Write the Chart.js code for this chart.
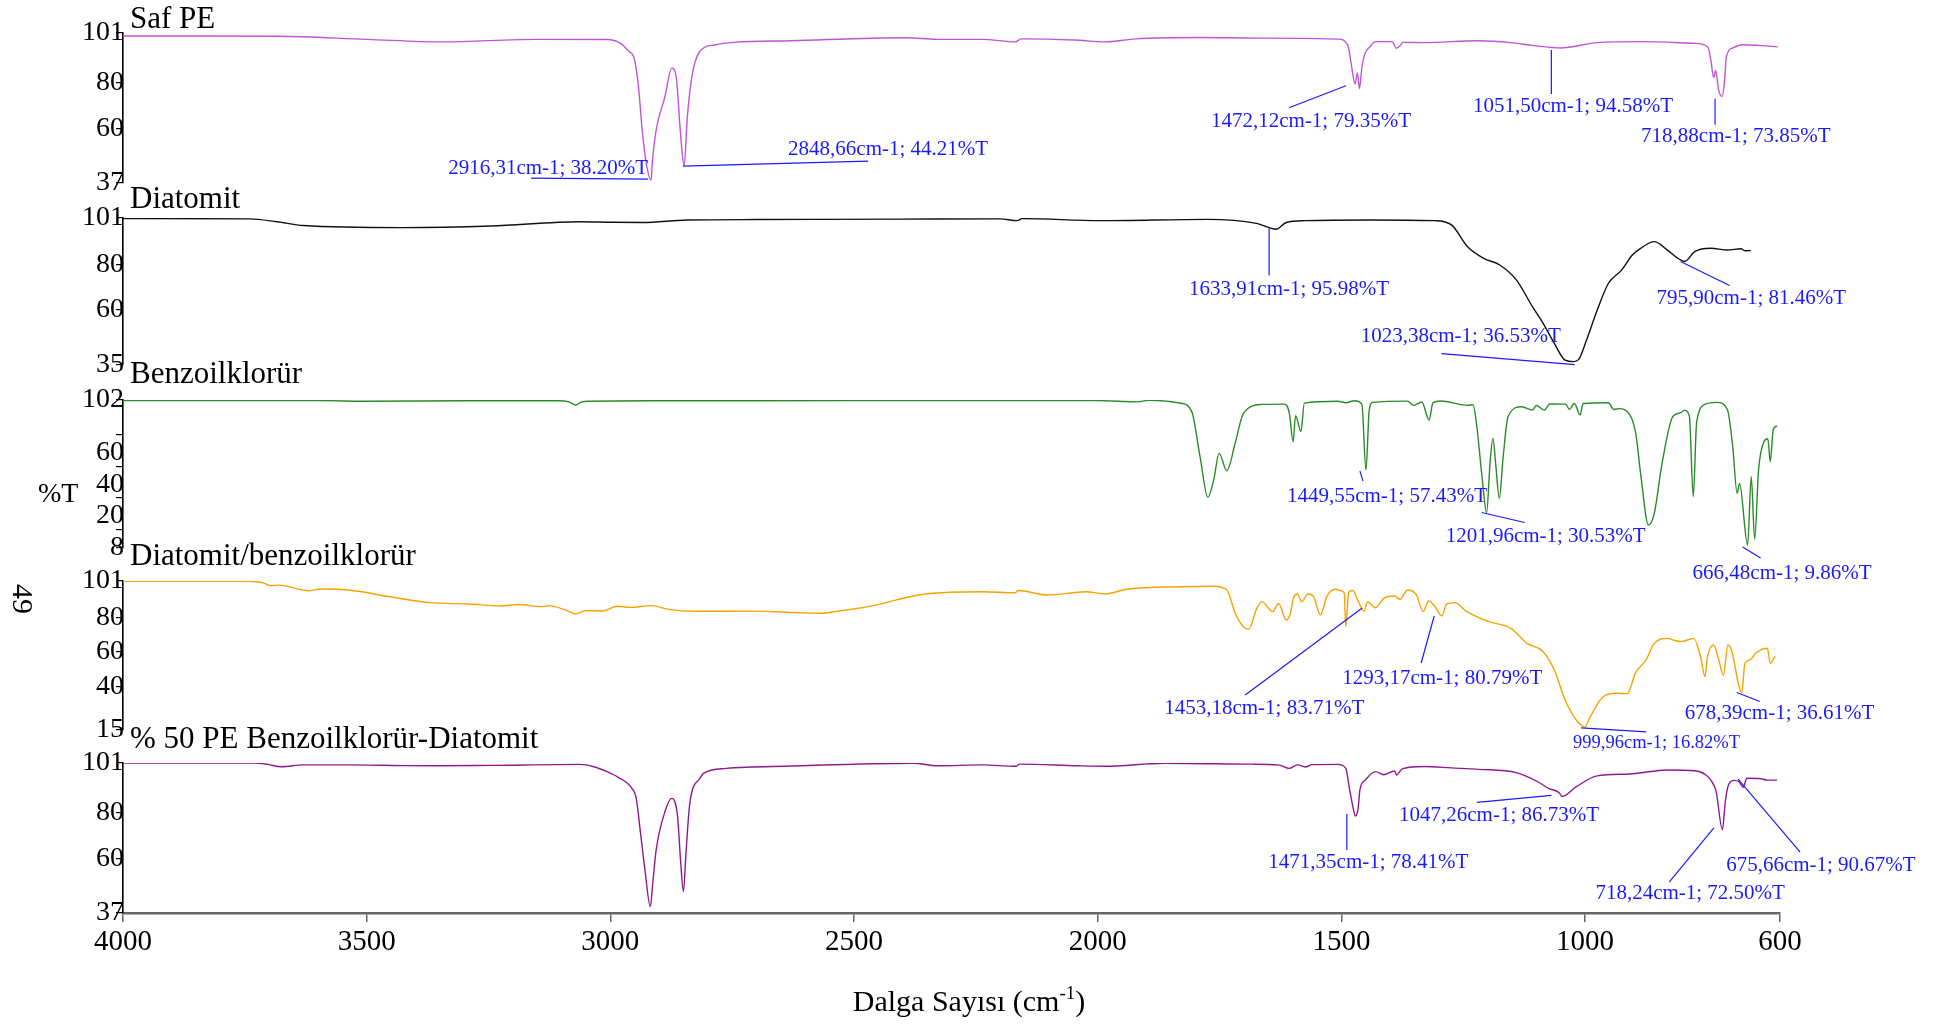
<!DOCTYPE html>
<html>
<head>
<meta charset="utf-8">
<title>FTIR spektrumları</title>
<script src="https://cdn.jsdelivr.net/npm/chart.js@4.4.1/dist/chart.umd.min.js"></script>
<style>
  html, body { margin: 0; padding: 0; background: #fff; }
  #wrap { position: relative; width: 1948px; height: 1027px; overflow: hidden;
          font-family: "Liberation Serif", "Times New Roman", serif; color: #000; }
  #wrap canvas { position: absolute; left: 0; top: 0; }
  .lbl { position: absolute; white-space: nowrap; line-height: 1; }
  #yTitle { left: 38px; top: 479px; font-size: 28px; }
  #sideNo { left: 8px; top: 584px; font-size: 30px; transform: rotate(90deg); transform-origin: 15px 15px; }
  #xTitle { left: 0; width: 1938px; text-align: center; top: 986px; font-size: 30px; }
  #xTitle sup { font-size: 19px; vertical-align: 12px; line-height: 0; }
</style>
</head>
<body>
<div id="wrap">
  <canvas id="c0" width="1948" height="1027"></canvas>
  <canvas id="c1" width="1948" height="1027"></canvas>
  <canvas id="c2" width="1948" height="1027"></canvas>
  <canvas id="c3" width="1948" height="1027"></canvas>
  <canvas id="c4" width="1948" height="1027"></canvas>
  <div class="lbl" id="yTitle">%T</div>
  <div class="lbl" id="sideNo">49</div>
  <div class="lbl" id="xTitle">Dalga Sayısı (cm<sup>-1</sup>)</div>
</div>
<script>
// ---------- spectra: wavenumber (cm-1) and transmittance (%T) ----------
const safWn = [4000,3850,3684,3500,3345,3153,3007,2979,2961,2952,2943,2934,2926,2916.31,2913.5,2906,2888,2874,2865,2856,2848.66,2842,2833,2817,2786,2746,2629,2393,2330,2236,2169,2157,2048,1985,1922,1790,1660,1507,1487,1480,1472.12,1467,1463,1458,1452,1441,1430,1396,1387,1380,1374,1330,1219,1152,1108,1067,1051.5,1030,975,886,775,748,742,736,732,726,718.88,714,710,697,676,643,605];
const safT  = [99.7,99.7,99.6,98.3,97.2,98.3,98.2,96.6,93.0,90.9,79.5,58.2,45,38.20,46.8,59.6,73.8,86.0,82.4,58,44.21,65.3,82,93.0,95.9,97.0,97.7,99.0,98.3,98.3,97.2,98.5,98.0,97.2,98.5,99.1,98.8,98.4,95.9,88,79.35,84,77.3,86,92,95.2,97.3,97.3,94.5,95.5,97,96.9,97.7,96.9,95.7,94.8,94.58,95,96.9,97.3,96.6,95,89.5,82,85,76.7,73.85,80,90.9,94.6,96,95.7,95.1];

const diaWn = [4000,3739,3684,3630,3428,3245,3062,2998,2934,2842,2700,2400,2200,2165,2155,1995,1774,1674,1633.91,1613,1574,1441,1308,1274,1241,1208,1175,1141,1108,1086,1063,1041,1023.38,1013,997,975,952,925,903,886,858,831,810,795.9,775,742,708,680,672,660];
const diaT  = [100.8,100.6,99.3,97.6,96.7,97.4,99.3,99.1,99.0,100.1,100.3,100.5,100.6,99.8,100.7,99.8,100.4,98.6,95.98,99.0,99.8,100.1,99.8,97.9,88.1,82.9,79.9,73.2,61.2,53.7,44.7,37.2,36.53,37.5,46.2,59.7,71.7,77.6,84.4,87.4,90.4,86.6,83,81.46,85.9,87.4,86.6,87.2,86.3,86.4];

const bzWn = [4000,3600,3492,3300,3107,3085,3071,3060,3044,2900,2500,2000,1918,1896,1829,1807,1790,1774,1762,1751,1735,1718,1701,1663,1618,1607,1599,1594,1583,1576,1507,1490,1474,1458,1449.55,1443,1436,1364,1352,1335,1320,1312,1296,1241,1230,1222,1212,1201.96,1195,1189,1183,1176,1168,1158,1130,1108,1100,1084,1072,1040,1032,1022,1010,1004,952,941,930,913,896,886,870,858,842,820,803,797,786,778,771,752,730,708,697,688,683,666.48,659,652,644,633,625,620,614,606];
const bzT  = [101.6,101.6,101.2,101.5,101.5,100.8,98.8,100.6,101.2,101.5,101.6,101.6,100.8,101.8,99.9,94.6,66,40.2,51.2,68.1,57.1,74.5,93.5,99.2,99.4,94,75.5,92,81.9,100,101.2,100.3,101.5,99.5,57.43,95,100.5,101.3,98.6,100.7,89.3,100.3,101.4,98.6,99,85,55,30.53,62,77.6,60,39.5,66,91.4,97.7,95.6,98.5,95.6,99.5,99.4,96,99.8,92.5,99.8,100.3,96,96.5,94.5,80.8,55.4,22.6,30,61.8,91.4,94,95.6,92,40.6,88,99.5,100.5,96,72.4,42.7,49,9.86,53.3,13.5,57.5,75.5,77.4,62.8,83,85.5];

const dbWn = [4000,3739,3712,3698,3680,3620,3593,3538,3446,3373,3291,3226,3190,3140,3126,3089,3071,3052,3016,2986,2959,2915,2880,2825,2707,2613,2566,2535,2472,2354,2236,2170,2163,2103,2024,1985,1940,1829,1762,1735,1718,1701,1690,1674,1663,1641,1629,1613,1605,1598,1590,1582,1568,1557,1543,1530,1513,1502,1494,1491,1485,1476,1468,1453.18,1446,1441,1430,1413,1391,1380,1364,1346,1332,1321,1310,1293.17,1285,1268,1241,1197,1152,1119,1086,1063,1041,1018,999.96,991,963,935,913,897,875,858,831,820,803,777,763,754,749,736,727,716,707,700,678.39,672,661,650,626,620,610];
const dbT  = [100.8,100.8,99.9,98.3,98.6,95.4,96.4,95.8,91.6,88.5,87.7,86.6,87.4,86.2,86.8,83.9,82,83.9,83.7,86.4,85.8,86.8,84.6,83.5,83.6,82.7,82.4,83.5,86.2,93.5,94.8,94.2,95.5,92.9,94.8,93.5,96.2,97.7,98,95.8,82.4,74.6,73.1,85,89.1,83.3,88,78.5,82,91.5,93.5,89.1,93.5,92,81.4,92,96.2,95.5,94,74.6,94.5,95.5,91,83.71,89,88,85.6,91,92.3,90.5,95.8,93,83.3,89.5,87,80.79,87.5,88.5,83,77.5,73.7,65,60.2,49.6,32.3,20.8,16.82,21.7,34.2,36.2,36,47.7,55.4,65,67.9,67,66,67.9,57.3,45.8,57,64.1,57,46.7,64.1,61.5,36.61,53.5,55.5,59.3,62.2,53.5,57.7];

const peWn = [4000,3730,3703,3675,3630,3538,3428,3355,3245,3062,3034,3007,2984,2957,2947,2938,2929,2918,2913,2906,2888,2874,2862,2856,2850,2845,2837,2816,2809,2762,2629,2378,2330,2236,2168,2160,2041,1985,1862,1685,1629,1607,1590,1574,1560,1507,1491,1483,1476,1471.35,1466,1462,1451,1430,1413,1391,1387,1375,1330,1274,1219,1141,1097,1075,1053,1047.26,1018,975,908,831,775,752,742,731,718.24,712,705,694,684,675.66,668,643,626,606];
const peT  = [101,101,100.4,99.4,100.2,100.2,99.9,99.8,100,100.4,99.4,97.3,94.9,90.5,86,71,55.4,39.7,49.7,63.9,80.2,85.9,78,59.6,46.1,62,83.8,94.5,96.6,98.7,99.7,100.9,99.8,100.2,99.6,100.5,99.8,99.6,100.9,100.5,100.2,98.7,100.2,99.3,100.3,100.4,98.7,89.5,82,78.41,81,89.5,93.7,97.3,96,97.6,95.9,98.5,99.5,98.9,98.3,96.9,93,90.2,88.3,86.73,90.9,95.5,96.3,98,97.7,95.9,93.7,88.8,72.5,85,92,93.6,93,90.67,94.5,94.4,93.7,93.7];

// ---------- labelled peaks ----------
const safPeakWn = [2916.31, 2848.66, 1472.12, 1051.50, 718.88];
const safPeakT  = [38.20, 44.21, 79.35, 94.58, 73.85];
const diaPeakWn = [1633.91, 1023.38, 795.90];
const diaPeakT  = [95.98, 36.53, 81.46];
const bzPeakWn  = [1449.55, 1201.96, 666.48];
const bzPeakT   = [57.43, 30.53, 9.86];
const dbPeakWn  = [1453.18, 1293.17, 999.96, 678.39];
const dbPeakT   = [83.71, 80.79, 16.82, 36.61];
const pePeakWn  = [1047.26, 1471.35, 718.24, 675.66];
const pePeakT   = [86.73, 78.41, 72.50, 90.67];

// ---------- axis ticks ----------
const xTicks   = [4000, 3500, 3000, 2500, 2000, 1500, 1000, 600];
const safTicks = [37, 60, 80, 101];
const diaTicks = [35, 60, 80, 101];
const bzTicks  = [8, 20, 40, 60, 80, 102];
const bzTickLabels = ['8', '20', '40', '60', '', '102'];
const dbTicks  = [15, 40, 60, 80, 101];
const peTicks  = [37, 60, 80, 101];

// ---------- layout (pixels) ----------
const plotLeft = 123, plotRight = 1780;
const panelTop    = [33, 218, 400, 581, 763];
const panelBottom = [183, 365, 548, 730, 913];
const titleLift   = [5, 10, 17, 16, 15];
const xAxisHeight = 62;
// tick labels of the Benzoilklorür panel that sit half a line above their tick
const bzLabelRaised = [false, true, true, true, false, false];
// leader lines [x0, y0, x1, y1] and label left/middle [dx, dy], relative to the peak point
const safLead = [[-3,-1,-120,-2], [-1,0,184,-5], [-9,2,-66,24], [-8.6,2,-8.6,46], [-7,2,-7,28]];
const safText = [[-203,-12], [104,-17], [-144,38], [-87,58], [-81,40]];
const diaLead = [[-7,-1,-7,46], [1,3,-132,-8], [-4,0,45,24]];
const diaText = [[-87,60], [-213,-25], [-28,37]];
const bzLead  = [[-6,1,-3,11], [-5,0,38,10], [-5,2,13,13]];
const bzText  = [[-79,26], [-41,24], [-55,28]];
const dbLead  = [[-2,-3,-119,84], [-8,0,-21,47], [-4,1,61,5], [-5,0,18,9]];
const dbText  = [[-200,98], [-100,62], [-12,16], [-57,21]];
const dbTextSize = [21, 21, 18.5, 21];
const peLead  = [[-10.6,-1,-85,6], [-8.5,-2,-8.5,34], [-8.5,-2,-53,52], [-5,-8,57,65]];
const peText  = [[-163,19], [-87,47], [-127,64], [-17,78]];

const SERIF = '"Liberation Serif", "Times New Roman", serif';
const PEAK_BLUE = '#1a1aff';

const panels = [
  { title: 'Saf PE', wn: safWn, t: safT, min: 37, max: 101, ticks: safTicks, labels: null, raised: null,
    color: '#bf55d6', pWn: safPeakWn, pT: safPeakT, lead: safLead, text: safText, size: null },
  { title: 'Diatomit', wn: diaWn, t: diaT, min: 35, max: 101, ticks: diaTicks, labels: null, raised: null,
    color: '#111111', pWn: diaPeakWn, pT: diaPeakT, lead: diaLead, text: diaText, size: null },
  { title: 'Benzoilklorür', wn: bzWn, t: bzT, min: 8, max: 102, ticks: bzTicks, labels: bzTickLabels, raised: bzLabelRaised,
    color: '#2b8a2b', pWn: bzPeakWn, pT: bzPeakT, lead: bzLead, text: bzText, size: null },
  { title: 'Diatomit/benzoilklorür', wn: dbWn, t: dbT, min: 15, max: 101, ticks: dbTicks, labels: null, raised: null,
    color: '#f5a300', pWn: dbPeakWn, pT: dbPeakT, lead: dbLead, text: dbText, size: dbTextSize },
  { title: '% 50 PE Benzoilklorür-Diatomit', wn: peWn, t: peT, min: 37, max: 101, ticks: peTicks, labels: null, raised: null,
    color: '#8e1b8e', pWn: pePeakWn, pT: pePeakT, lead: peLead, text: peText, size: null }
];

function peakLabel(wn, t) {
  return wn.toFixed(2).replace('.', ',') + 'cm-1; ' + t.toFixed(2) + '%T';
}

// panel title and peak labels with leader lines
const panelDecor = {
  id: 'panelDecor',
  afterDraw(chart, args, opts) {
    const p = opts.panel, i = opts.index;
    const { ctx, chartArea } = chart;
    const xs = chart.scales.x, ys = chart.scales.y;
    ctx.save();
    ctx.fillStyle = '#000';
    ctx.font = '31px ' + SERIF;
    ctx.textAlign = 'left';
    ctx.textBaseline = 'alphabetic';
    ctx.fillText(p.title, chartArea.left + 7, chartArea.top - titleLift[i]);

    ctx.strokeStyle = PEAK_BLUE;
    ctx.fillStyle = PEAK_BLUE;
    ctx.lineWidth = 1.2;
    ctx.textBaseline = 'middle';
    p.pWn.forEach((w, k) => {
      const px = xs.getPixelForValue(w), py = ys.getPixelForValue(p.pT[k]);
      const L = p.lead[k], T = p.text[k];
      ctx.beginPath();
      ctx.moveTo(px + L[0], py + L[1]);
      ctx.lineTo(px + L[2], py + L[3]);
      ctx.stroke();
      const size = p.size ? p.size[k] : 21;
      ctx.font = size + 'px ' + SERIF;
      ctx.fillText(peakLabel(w, p.pT[k]), px + T[0], py + T[1]);
    });
    ctx.restore();
  }
};

panels.forEach((p, i) => {
  const last = i === panels.length - 1;
  const data = p.wn.map((w, k) => ({ x: w, y: p.t[k] }));
  new Chart(document.getElementById('c' + i), {
    type: 'line',
    data: { datasets: [{
      data,
      borderColor: p.color,
      borderWidth: 1.4,
      pointRadius: 0,
      fill: false,
      cubicInterpolationMode: 'monotone'
    }] },
    options: {
      responsive: false,
      animation: false,
      devicePixelRatio: 1,
      events: [],
      layout: { padding: {
        left: 0,
        right: 1948 - plotRight,
        top: panelTop[i],
        bottom: 1027 - panelBottom[i] - (last ? xAxisHeight : 0)
      } },
      plugins: {
        legend: { display: false },
        tooltip: { enabled: false },
        panelDecor: { panel: p, index: i }
      },
      scales: {
        x: {
          type: 'linear',
          reverse: true,
          min: 600,
          max: 4000,
          display: last,
          afterBuildTicks: s => { s.ticks = xTicks.map(v => ({ value: v })); },
          afterFit: s => { s.height = last ? xAxisHeight : 0; },
          border: { display: true, color: '#666', width: 2.5 },
          grid: { drawOnChartArea: false, drawTicks: true, tickLength: 9, color: '#666', lineWidth: 1.5 },
          ticks: { autoSkip: false, maxRotation: 0, color: '#000', padding: 3,
                   font: { family: SERIF, size: 29 },
                   callback: v => String(v) }
        },
        y: {
          type: 'linear',
          min: p.min,
          max: p.max,
          afterBuildTicks: s => { s.ticks = p.ticks.map(v => ({ value: v })); },
          afterFit: s => { s.width = plotLeft; },
          border: { display: true, color: '#000', width: 1.6 },
          grid: { drawOnChartArea: false, drawTicks: true, tickLength: 7, color: '#000', lineWidth: 1.2 },
          ticks: { autoSkip: false, color: '#000', padding: -8,
                   font: { family: SERIF, size: 28, lineHeight: 0.93 },
                   callback: v => {
                     const k = p.ticks.indexOf(v);
                     const text = p.labels && k >= 0 ? p.labels[k] : String(v);
                     // a trailing empty line lifts the label by half a line
                     return p.raised && p.raised[k] ? [text, ''] : text;
                   } }
        }
      }
    },
    plugins: [panelDecor]
  });
});
</script>
</body>
</html>
